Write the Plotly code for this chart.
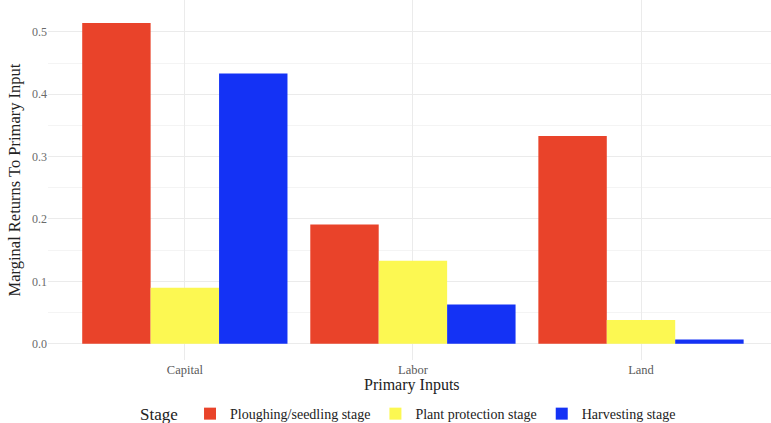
import plotly.graph_objects as go

categories = ["Capital", "Labor", "Land"]
stages = ["Ploughing/seedling stage", "Plant protection stage", "Harvesting stage"]
ploughing = [0.514, 0.191, 0.333]
protection = [0.090, 0.133, 0.038]
harvesting = [0.433, 0.063, 0.007]
colors = ["#E9432A", "#FCF852", "#1432F5"]

fig = go.Figure()
for name, vals, col in zip(stages, [ploughing, protection, harvesting], colors):
    fig.add_trace(go.Bar(x=categories, y=vals, name=name, marker=dict(color=col, line=dict(width=0))))

font = "Liberation Serif, DejaVu Serif, serif"
fig.update_layout(
    width=771, height=423,
    barmode="group", bargap=0.1, bargroupgap=0,
    plot_bgcolor="white", paper_bgcolor="white",
    margin=dict(l=48, r=0, t=0, b=63, autoexpand=False),
    font=dict(family=font, color="#4d4d4d", size=12),
    xaxis=dict(
        range=[-0.6, 2.57], showgrid=True, gridcolor="#EBEBEB", gridwidth=1,
        ticks="", tickfont=dict(size=12.5, color="#5a5a5a"), automargin=False,
        zeroline=False,
    ),
    yaxis=dict(
        range=[-0.026, 0.551], tickvals=[0, 0.1, 0.2, 0.3, 0.4, 0.5],
        ticktext=["0.0", "0.1", "0.2", "0.3", "0.4", "0.5"],
        showgrid=True, gridcolor="#EBEBEB", gridwidth=1, automargin=False,
        minor=dict(tickvals=[0.05, 0.15, 0.25, 0.35, 0.45], showgrid=True, gridcolor="#F4F4F4", gridwidth=1),
        zeroline=False, ticks="", tickfont=dict(size=12, color="#6a6a6a"),
        title=dict(text="Marginal Returns To Primary Input", font=dict(size=16.5, color="#222"), standoff=7),
    ),
    legend=dict(
        orientation="h", x=0.5, xanchor="center", y=0.02, yanchor="middle", yref="container",
        title=dict(text="Stage ", font=dict(size=17, color="#222")),
        font=dict(size=14, color="#222"),
        itemwidth=30, traceorder="normal",
    ),
    annotations=[dict(
        text="Primary Inputs", xref="paper", yref="paper", x=(412 - 48) / 723, y=0,
        xanchor="center", yanchor="middle", yshift=-25, showarrow=False,
        font=dict(size=16, color="#222", family=font),
    )],
)

fig.write_html("out.html", config={"displayModeBar": False},
               post_script="document.body.style.margin='0';")
